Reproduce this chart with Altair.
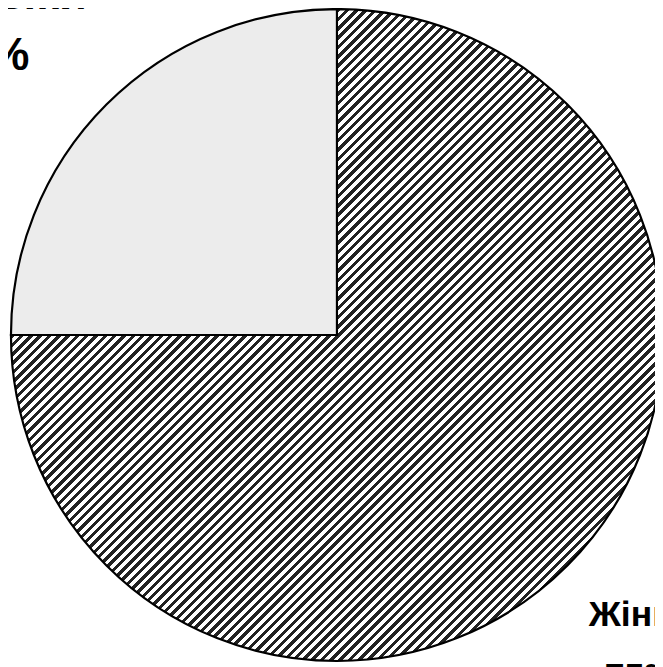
import altair as alt
import pandas as pd

categories = ["Жінки", "Чоловіки"]
shares = [75, 25]
labels = [["Жінки", "75%"], ["Чоловіки", "25%"]]

df = pd.DataFrame({"cat": categories, "share": shares,
                   "label": ["\n".join(l) for l in labels]})

# diagonal hatching emulated with a hard-stop linear gradient
n_periods = 140
stops = []
for k in range(n_periods):
    a = k / n_periods
    b = (k + 0.48) / n_periods
    c = (k + 1) / n_periods
    stops += [
        {"offset": a, "color": "#222222"},
        {"offset": b, "color": "#222222"},
        {"offset": b, "color": "#ffffff"},
        {"offset": c, "color": "#ffffff"},
    ]
hatch = {"gradient": "linear", "x1": 0, "y1": 0, "x2": 1, "y2": 1, "stops": stops}

CX, CY, R = 333, 327, 330
W, H = 655, 659

base = alt.Chart(df)

theta_scale = alt.Scale(domain=[0, 100], range=[0, 6.283185307])

arcs = base.mark_arc(stroke="black", strokeWidth=2.2).encode(
    theta=alt.Theta("share:Q", stack=True, scale=theta_scale),
    order=alt.Order("cat:N", sort="ascending"),
    fill=alt.condition(alt.datum.cat == "Жінки", alt.value(hatch), alt.value("#ececec")),
    x=alt.value(CX), y=alt.value(CY), radius=alt.value(R),
)

lab_base = base.transform_window(
    cum="sum(share)", sort=[alt.SortField("cat", order="ascending")]
).transform_calculate(mid="datum.cum - datum.share / 2")

def label_layer(cat, r, dx, dy, size):
    return lab_base.transform_filter(alt.datum.cat == cat).mark_text(
        lineBreak="\n", align="center", baseline="alphabetic",
        font="Liberation Sans", fontWeight="bold", fontSize=size,
        lineHeight=62, color="black", dx=dx, dy=dy,
    ).encode(
        theta=alt.Theta("mid:Q", stack=None, scale=theta_scale),
        text="label:N",
        x=alt.value(CX), y=alt.value(CY), radius=alt.value(r),
    )

chart = alt.layer(
    arcs,
    label_layer("Чоловіки", 470, -25, 2, 46),
    label_layer("Жінки", 430, 3, -9, 36),
).properties(
    width=W, height=H, autosize=alt.AutoSizeParams(type="none"), padding=0,
    background="white",
).configure_view(stroke=None)

chart.save("out.html", embed_options={"renderer": "svg", "actions": False})
